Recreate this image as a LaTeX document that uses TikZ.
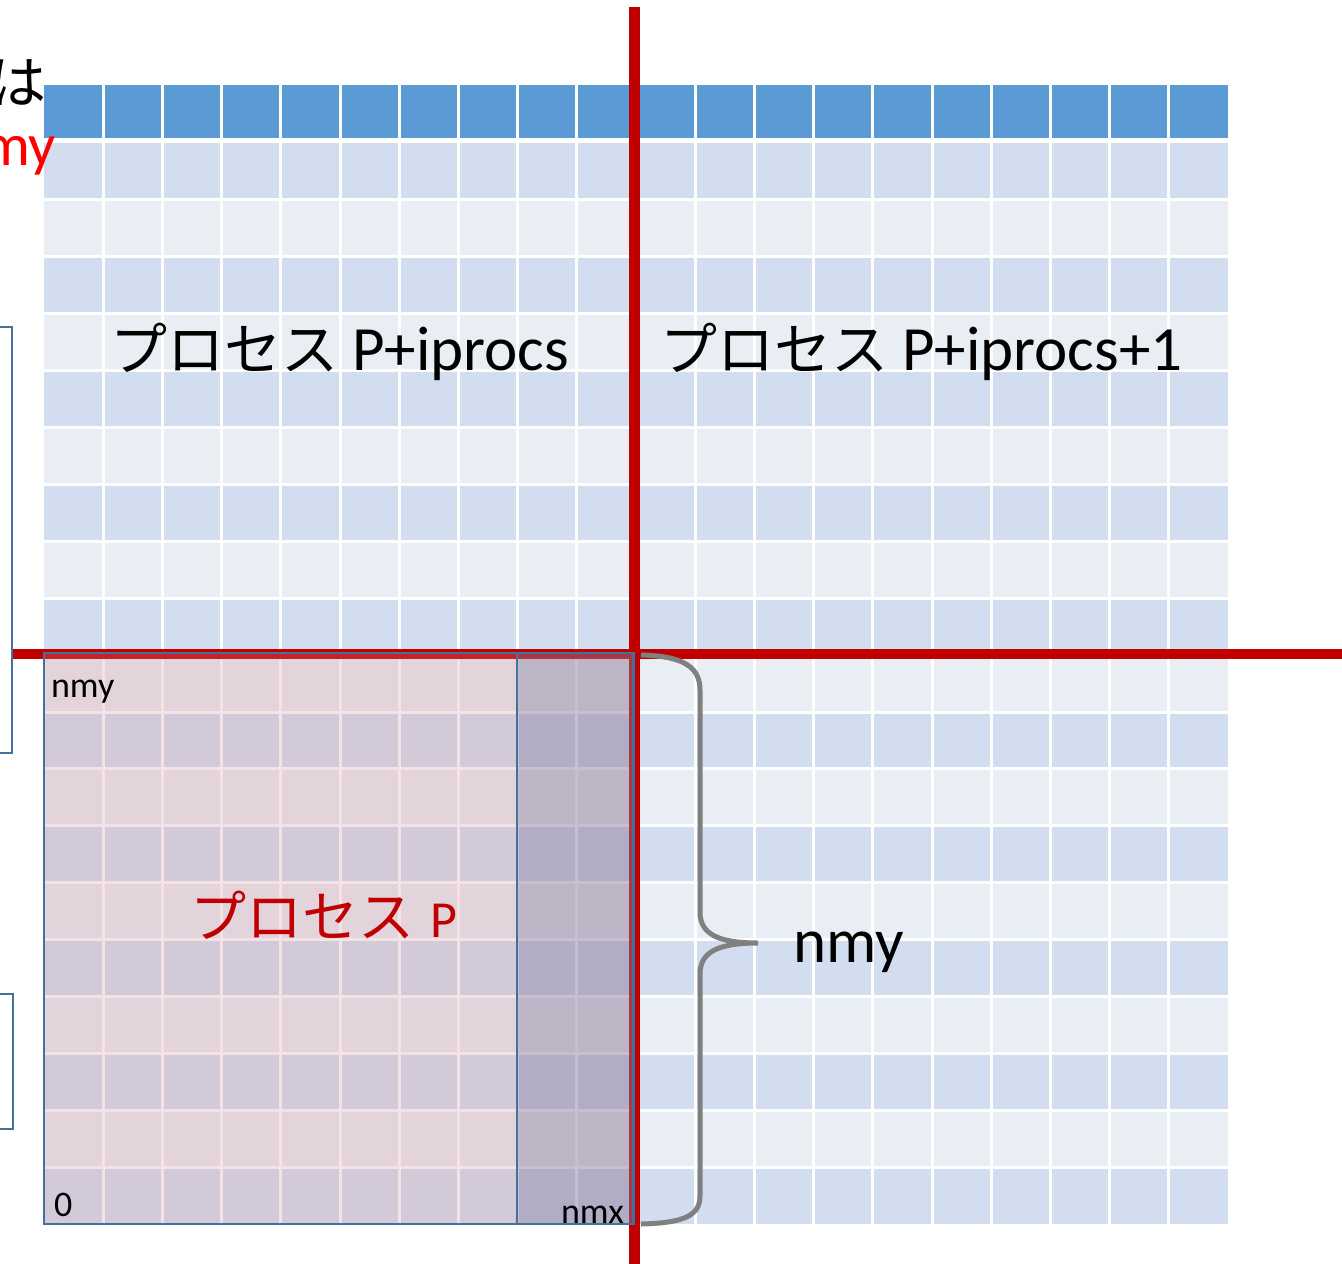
\documentclass[tikz,border=0pt]{standalone}
\usepackage{fontspec}
\setmainfont{Carlito}
\newfontfamily\jp{Noto Sans CJK JP}
\definecolor{hdr}{HTML}{5B9BD5}
\definecolor{rowA}{HTML}{D2DEEF}
\definecolor{rowB}{HTML}{E9EDF4}
\definecolor{redline}{HTML}{C00000}
\definecolor{brightred}{HTML}{FF0000}
\definecolor{blueline}{HTML}{41719C}
\definecolor{pinkov}{RGB}{213,141,152}
\definecolor{greyov}{RGB}{100,110,150}
\definecolor{bracegray}{HTML}{808080}
\tikzset{
  gridline/.style={white, line width=3pt},
  divider/.style={redline, line width=10.5pt},
  outline/.style={blueline, line width=2.5pt},
  lbl/.style={inner sep=0pt, outer sep=0pt},
  biglbl/.style={lbl, font=\fontsize{63}{70}\selectfont},
  smalllbl/.style={lbl, font=\fontsize{36}{40}\selectfont},
}
\begin{document}
\begin{tikzpicture}[x=1pt,y=-1pt]
\useasboundingbox (0,0) rectangle (1342,1264);
\clip (0,0) rectangle (1342,1264);
\fill[white] (0,0) rectangle (1342,1264);
% grid rows
\fill[hdr] (44,85) rectangle (1228,137.5);
\foreach \j in {0,2,...,18} \fill[rowA] (44,{143+56.9*\j}) rectangle (1228,{143+56.9*(\j+1)});
\foreach \j in {1,3,...,17} \fill[rowB] (44,{143+56.9*\j}) rectangle (1228,{143+56.9*(\j+1)});
\foreach \i in {1,...,19} \draw[gridline] ({44+59.2*\i},84) -- ({44+59.2*\i},1225);
\foreach \j in {1,...,18} \draw[gridline] (43,{143+56.9*\j}) -- (1229,{143+56.9*\j});
% red dividers
\draw[divider] (634.5,7) -- (634.5,1264);
\draw[divider] (12,654) -- (1342,654);
% process P overlays
\fill[pinkov, opacity=0.25] (44,652) rectangle (633,1224);
\fill[greyov, opacity=0.3] (517,652) rectangle (633,1224);
\draw[outline] (44,653) rectangle (633.5,1224);
\draw[outline] (517,653) -- (517,1224);
% partial boxes at left edge
\draw[blueline, line width=2pt] (-5,327) -- (12,327) -- (12,753) -- (-5,753);
\draw[blueline, line width=2pt] (-5,994) -- (13,994) -- (13,1129) -- (-5,1129);
% brace
\draw[bracegray, line width=5pt] (641,655) .. controls (685,656) and (700,668) .. (700,690) -- (700,912) .. controls (700,935) and (720,943) .. (758,943) .. controls (720,943) and (700,951) .. (700,974) -- (700,1196) .. controls (700,1215) and (685,1223) .. (641,1224);
% labels
\node[biglbl, anchor=base west] (pa) at (110,370) {{\jp\fontsize{57}{64}\selectfont プロセス} P+iprocs};
\node[biglbl, anchor=base west] (pb) at (660,370) {{\jp\fontsize{57}{64}\selectfont プロセス} P+iprocs+1};
\node[lbl, anchor=base west, text=redline] (pp) at (190,937) {{\jp\fontsize{56}{60}\selectfont プロセス}\hspace{16pt}{\fontsize{52}{56}\selectfont P}};
\node[biglbl, anchor=base west] (ny) at (793,962) {nmy};
\node[smalllbl, anchor=base west] (nys) at (51,697) {nmy};
\node[smalllbl, anchor=base west] (zero) at (54,1216) {0};
\node[smalllbl, anchor=base east] (nx) at (624,1223) {nmx};
\node[lbl, anchor=base east, font=\jp\fontsize{57}{64}\selectfont] (ha) at (47,103) {は};
\node[lbl, anchor=base east, text=brightred, font=\fontsize{60}{66}\selectfont] (my) at (56,165) {my};
\end{tikzpicture}
\end{document}
